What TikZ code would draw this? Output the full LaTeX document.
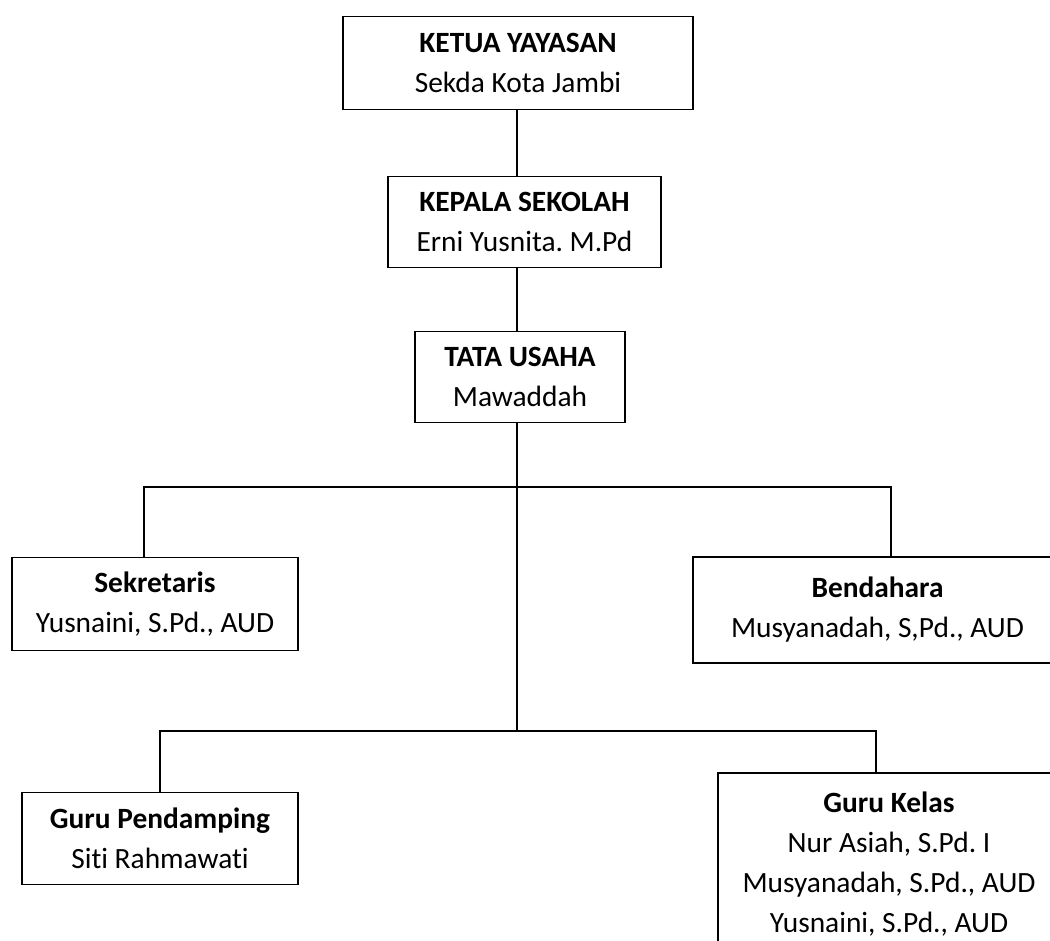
\documentclass[tikz,border=0pt]{standalone}
\usepackage{fontspec}
\setmainfont{Carlito}[Ligatures=NoCommon]
\usepackage{tikz}
\frenchspacing

\begin{document}
\begin{tikzpicture}[x=0.5pt, y=-0.5pt, line width=0.8pt,
  kotak/.style={draw, rectangle, align=center, inner sep=0pt, font=\fontsize{14.7}{20}\selectfont}]
\useasboundingbox (0,0) rectangle (1050,941);
\clip (0,0) rectangle (1050,941);
\node[kotak, minimum width=175pt, minimum height=46.5pt] (k1) at (518,63) {\textbf{KETUA YAYASAN}\\Sekda Kota Jambi};
\node[kotak, minimum width=136.5pt, minimum height=45.5pt] (k2) at (524.5,222) {\textbf{KEPALA SEKOLAH}\\Erni Yusnita. M.Pd};
\node[kotak, minimum width=105pt, minimum height=45.5pt] (t1) at (520,377) {\textbf{TATA USAHA}\\Mawaddah};
\node[kotak, minimum width=143pt, minimum height=46.5pt] (s1) at (155,604) {\textbf{Sekretaris}\\Yusnaini, S.Pd., AUD};
\node[kotak, minimum width=184.5pt, minimum height=53pt] (s2) at (877.5,610) {\textbf{Bendahara}\\Musyanadah, S,Pd., AUD};
\node[kotak, minimum width=138pt, minimum height=46pt] (g1) at (160,838.5) {\textbf{Guru Pendamping}\\Siti Rahmawati};
\node[kotak, minimum width=171pt, minimum height=91pt] (g2) at (889,864) {\textbf{Guru Kelas}\\Nur Asiah, S.Pd. I\\Musyanadah, S.Pd., AUD\\Yusnaini, S.Pd., AUD};
\coordinate (a1) at (144,487);
\coordinate (a2) at (891,487);
\coordinate (b1) at (160,731);
\coordinate (b2) at (876,731);
\coordinate (m) at (517,731);
\draw (k1.south -| m) -- (k2.north -| m);
\draw (k2.south -| m) -- (t1.north -| m);
\draw (t1.south -| m) -- (m);
\draw (a1 |- s1.north) -- (a1) -- (a2) -- (a2 |- s2.north);
\draw (b1 |- g1.north) -- (b1) -- (b2) -- (b2 |- g2.north);
\end{tikzpicture}
\end{document}
